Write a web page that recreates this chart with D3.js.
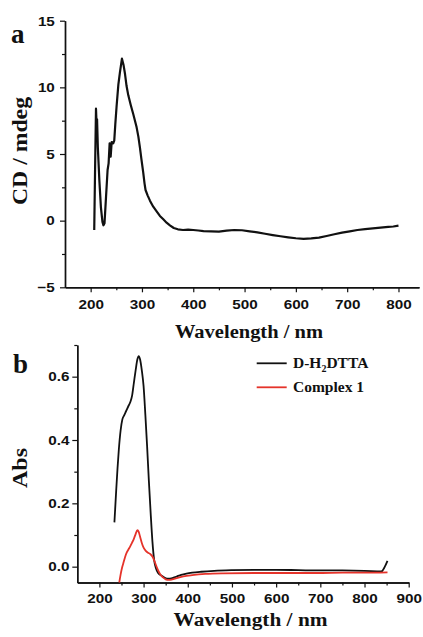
<!DOCTYPE html>
<html>
<head>
<meta charset="utf-8">
<script src="https://cdn.jsdelivr.net/npm/d3@7"></script>
<style>
  body { margin: 0; background: #fff; }
  .tick text { font-family: "Liberation Sans", Arial, sans-serif; font-weight: bold; }
  .ttl { font-family: "Liberation Serif", "Times New Roman", serif; font-weight: bold; }
</style>
</head>
<body>
<div id="chart"></div>
<script>
// ---- 数据 (a) CD 光谱 ----
const cdWave = [207, 208.5, 210.4, 211.5, 212.5, 214, 217, 220, 223, 225, 227, 230, 233, 235, 237, 239, 241, 244, 246, 248,
  250.6, 254, 257, 261, 264, 267, 270, 273.4, 278, 283, 289.6, 293, 296, 299, 302.5, 305, 307, 311, 315.6, 322,
  328.6, 335, 341.6, 348, 354.5, 362, 370, 380, 390, 400, 410, 420, 435, 450, 465, 480, 495, 510, 525, 540,
  555, 570, 585, 600, 615, 630, 645, 660, 675, 690, 705, 720, 735, 750, 765, 780, 790, 800];
const cdValue = [-0.7, 3.5, 8.4, 7.3, 7.6, 5.5, 3.0, 1.0, -0.1, -0.35, -0.2, 1.8, 3.8, 4.3, 5.8, 4.8, 5.9, 5.8, 6.0, 7.2,
  8.6, 10.2, 11.1, 12.15, 11.7, 11.0, 10.1, 9.4, 8.7, 8.0, 7.0, 6.3, 5.5, 4.6, 3.6, 2.8, 2.3, 1.9, 1.5, 1.05,
  0.7, 0.35, 0.1, -0.15, -0.35, -0.55, -0.65, -0.7, -0.68, -0.7, -0.74, -0.79, -0.8, -0.82, -0.75, -0.7, -0.72, -0.8, -0.88, -0.98,
  -1.08, -1.17, -1.25, -1.32, -1.36, -1.33, -1.27, -1.15, -1.02, -0.9, -0.8, -0.7, -0.64, -0.58, -0.52, -0.47, -0.44, -0.37];

// ---- 数据 (b) 吸收光谱 ----
const ligandWave = [234, 238, 241, 244, 248, 252, 256, 260, 265, 270, 274, 278, 282, 286, 289, 292, 296, 300, 304, 308,
  312, 316, 320, 324, 328, 333, 340, 348, 356, 365, 375, 385, 397, 410, 430, 460, 500, 550, 600, 650,
  700, 750, 800, 838, 846, 852];
const ligandAbs = [0.14, 0.24, 0.31, 0.37, 0.43, 0.465, 0.478, 0.49, 0.505, 0.52, 0.54, 0.58, 0.62, 0.655, 0.665, 0.655, 0.62, 0.57, 0.48, 0.38,
  0.27, 0.17, 0.08, 0.02, -0.005, -0.02, -0.028, -0.035, -0.038, -0.036, -0.031, -0.026, -0.022, -0.019, -0.016, -0.013, -0.011, -0.01, -0.01, -0.011,
  -0.012, -0.012, -0.013, -0.015, 0.0, 0.018];
const complexWave = [245, 248, 251, 254, 258, 262, 266, 270, 274, 278, 282, 286, 289, 292, 296, 300, 305, 310, 315, 320,
  324, 328, 333, 338, 344, 350, 357, 365, 375, 390, 410, 440, 480, 550, 600, 650, 700, 750, 800, 852];
const complexAbs = [-0.05, -0.025, -0.005, 0.01, 0.03, 0.045, 0.055, 0.065, 0.076, 0.088, 0.103, 0.115, 0.11, 0.095, 0.075, 0.06, 0.05, 0.044, 0.04, 0.032,
  0.02, 0.005, -0.012, -0.025, -0.034, -0.04, -0.042, -0.04, -0.036, -0.031, -0.027, -0.023, -0.021, -0.02, -0.02, -0.02, -0.02, -0.019, -0.019, -0.018];

// 刻度
const cdXTicks = [200, 300, 400, 500, 600, 700, 800];
const cdXMinor = [250, 350, 450, 550, 650, 750];
const cdYTicks = [-5, 0, 5, 10, 15];
const cdYMinor = [-2.5, 2.5, 7.5, 12.5];
const absXTicks = [200, 300, 400, 500, 600, 700, 800, 900];
const absXMinor = [250, 350, 450, 550, 650, 750, 850];
const absYTicks = [0.0, 0.2, 0.4, 0.6];
const absYMinor = [0.1, 0.3, 0.5, 0.7];

const legendNames = ["D-H2DTTA", "Complex 1"];
const colors = ["#111111", "#e5332a"];

let width = 423;
let height = 637;

let svg = d3.select("#chart")
    .append("svg")
    .attr("width", width)
    .attr("height", height);

// 画一个坐标系（左轴 + 底轴 + 次刻度）
function drawAxes(x, y, xt, xm, yt, ym, yfmt, ypad, xpad) {
    let g = svg.append("g");
    let yBase = y.range()[0];
    let xBase = x.range()[0];

    g.append("g").attr("transform", "translate(0," + yBase + ")")
        .call(d3.axisBottom(x).tickValues(xm).tickSize(3).tickSizeOuter(0).tickFormat(""));
    let xa = g.append("g").attr("transform", "translate(0," + yBase + ")")
        .call(d3.axisBottom(x).tickValues(xt).tickSize(5).tickSizeOuter(0).tickPadding(xpad));

    g.append("g").attr("transform", "translate(" + xBase + ",0)")
        .call(d3.axisLeft(y).tickValues(ym).tickSize(3).tickSizeOuter(0).tickFormat(""));
    let ya = g.append("g").attr("transform", "translate(" + xBase + ",0)")
        .call(d3.axisLeft(y).tickValues(yt).tickSize(5).tickSizeOuter(0).tickPadding(ypad).tickFormat(yfmt));

    g.selectAll("path.domain").attr("stroke", "#111").attr("stroke-width", 1.4);
    g.selectAll(".tick line").attr("stroke", "#111").attr("stroke-width", 1.2);
    g.selectAll(".tick text").attr("font-size", "13.5px").attr("fill", "#111")
        .attr("transform", "scale(1.13,1)");
}

// ---- (a) ----
let xA = d3.scaleLinear().domain([150, 840]).range([65, 419]);
let yA = d3.scaleLinear().domain([-5, 15]).range([287.3, 20.7]);
drawAxes(xA, yA, cdXTicks, cdXMinor, cdYTicks, cdYMinor, d3.format("d"), 4, 7);

let lineA = d3.line()
    .x(function (d, i) { return xA(cdWave[i]); })
    .y(function (d) { return yA(d); });
svg.append("path")
    .attr("d", lineA(cdValue))
    .attr("fill", "none")
    .attr("stroke", "#111")
    .attr("stroke-width", 2.2)
    .attr("stroke-linejoin", "round");

// ---- (b) ----
let xB = d3.scaleLinear().domain([150, 900]).range([77.3, 408.7]);
let yB = d3.scaleLinear().domain([-0.05, 0.7]).range([582.5, 345]);
drawAxes(xB, yB, absXTicks, absXMinor, absYTicks, absYMinor, d3.format(".1f"), 2, 6);

let seriesB = [[ligandWave, ligandAbs], [complexWave, complexAbs]];
seriesB.forEach(function (s, k) {
    let line = d3.line()
        .x(function (d, i) { return xB(s[0][i]); })
        .y(function (d) { return yB(d); })
        .curve(d3.curveMonotoneX);
    svg.append("path")
        .attr("d", line(s[1]))
        .attr("fill", "none")
        .attr("stroke", colors[k])
        .attr("stroke-width", 1.8);
});

// 图例
legendNames.forEach(function (name, k) {
    let ly = 363.3 + k * 24;
    svg.append("line")
        .attr("x1", 256.7).attr("x2", 286.7)
        .attr("y1", ly).attr("y2", ly)
        .attr("stroke", colors[k]).attr("stroke-width", 1.8);
    let t = svg.append("text").attr("class", "ttl")
        .attr("x", 293).attr("y", ly + 5)
        .attr("font-size", "15.5px").attr("fill", "#111");
    if (name === "D-H2DTTA") {
        t.append("tspan").text("D-H");
        t.append("tspan").attr("font-size", "10px").attr("dy", 4).text("2");
        t.append("tspan").attr("dy", -4).text("DTTA");
    } else {
        t.text(name);
    }
});

// 标题与面板字母
function title(txt, x, y, size, len, rot) {
    svg.append("text").attr("class", "ttl")
        .attr("transform", "translate(" + x + "," + y + ")" + (rot ? " rotate(-90)" : ""))
        .attr("text-anchor", "middle")
        .attr("font-size", size + "px")
        .attr("textLength", len)
        .attr("lengthAdjust", "spacingAndGlyphs")
        .attr("fill", "#111")
        .text(txt);
}
title("Wavelength / nm", 249, 338, 18, 148, false);
title("Wavelength / nm", 250.5, 626, 18.5, 154, false);
title("CD / mdeg", 27, 151, 20, 108, true);
title("Abs", 27, 468, 20, 40, true);

svg.append("text").attr("class", "ttl").attr("x", 11).attr("y", 43)
    .attr("font-size", "27px").attr("fill", "#111").text("a");
svg.append("text").attr("class", "ttl").attr("x", 13).attr("y", 373)
    .attr("font-size", "27px").attr("fill", "#111").text("b");
</script>
</body>
</html>
